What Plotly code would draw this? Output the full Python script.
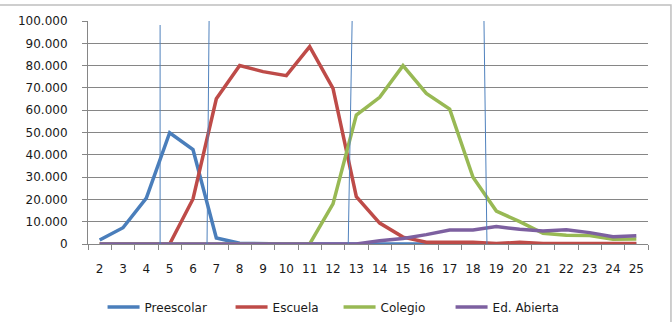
import plotly.graph_objects as go

edades = list(range(2, 26))
preescolar = [1800, 7300, 20600, 49900, 42300, 2700, 300, 0, 0, 0, 0, 0, 0, 0, 0, 0, 0, 0, 0, 0, 0, 0, 0, 0]
escuela = [0, 0, 0, 0, 20200, 65100, 80000, 77300, 75500, 88500, 69800, 21200, 9400, 3100, 800, 800, 800, 200, 800, 200, 200, 200, 200, 200]
colegio = [0, 0, 0, 0, 0, 0, 0, 0, 0, 0, 18000, 57800, 65800, 80000, 67500, 60500, 29900, 14800, 10000, 4800, 3900, 3800, 2100, 2200]
abierta = [0, 0, 0, 0, 0, 0, 0, 0, 0, 0, 0, 0, 1500, 2500, 4200, 6300, 6300, 7800, 6600, 5800, 6400, 5100, 3300, 3700]

series = [
    ("Preescolar", preescolar, "#4A7EBB", 81),
    ("Escuela", escuela, "#BE4B48", 61),
    ("Colegio", colegio, "#98B954", 65),
    ("Ed. Abierta", abierta, "#7D60A0", 80),
]

# hand-drawn divider lines (x top, x bottom, y top)
divisores = [(4.59, 4.59, 98200), (6.69, 6.60, 100000), (12.82, 12.65, 100000), (18.47, 18.60, 100000)]

fig = go.Figure()
for name, vals, color, lw in series:
    fig.add_trace(go.Scatter(x=edades, y=vals, name=name, mode="lines", legendwidth=lw,
                             line=dict(color=color, width=3.5)))

for xt, xb, yt in divisores:
    fig.add_shape(type="line", xref="x", yref="y", x0=xb, y0=-1300, x1=xt, y1=yt,
                  line=dict(color="#4F81BD", width=1), layer="above")

fig.add_shape(type="rect", xref="paper", yref="paper", x0=-0.2, x1=1.041, y0=-0.5, y1=1.072,
              line=dict(color="#BFBFBF", width=1.5))

font = dict(family="DejaVu Sans, sans-serif", size=12, color="#1a1a1a")

fig.update_layout(
    width=672, height=322,
    margin=dict(l=88, r=24, t=21, b=78, autoexpand=False),
    paper_bgcolor="white", plot_bgcolor="white",
    separators=",.",
    font=font,
    showlegend=True,
    legend=dict(orientation="h", x=0.026, xanchor="left", y=-0.2825, yanchor="middle",
                font=dict(size=12), itemwidth=32, tracegroupgap=0),
    xaxis=dict(range=[1.5, 25.5], tickmode="array", tickvals=edades,
               ticktext=[str(e) for e in edades], showgrid=False, zeroline=False,
               showline=True, linecolor="#868686", linewidth=1,
               ticks="", ticklabelstandoff=14,
               minor=dict(tickmode="linear", tick0=1.5, dtick=1, ticks="outside",
                          ticklen=5, tickcolor="#868686", showgrid=False)),
    yaxis=dict(range=[0, 100000], dtick=10000, tickformat=",d",
               showgrid=True, gridcolor="#868686", gridwidth=1, zeroline=False,
               showline=True, linecolor="#868686", linewidth=1,
               ticks="outside", ticklen=5, tickcolor="#868686", ticklabelstandoff=12),
)

fig.write_html("out.html")
